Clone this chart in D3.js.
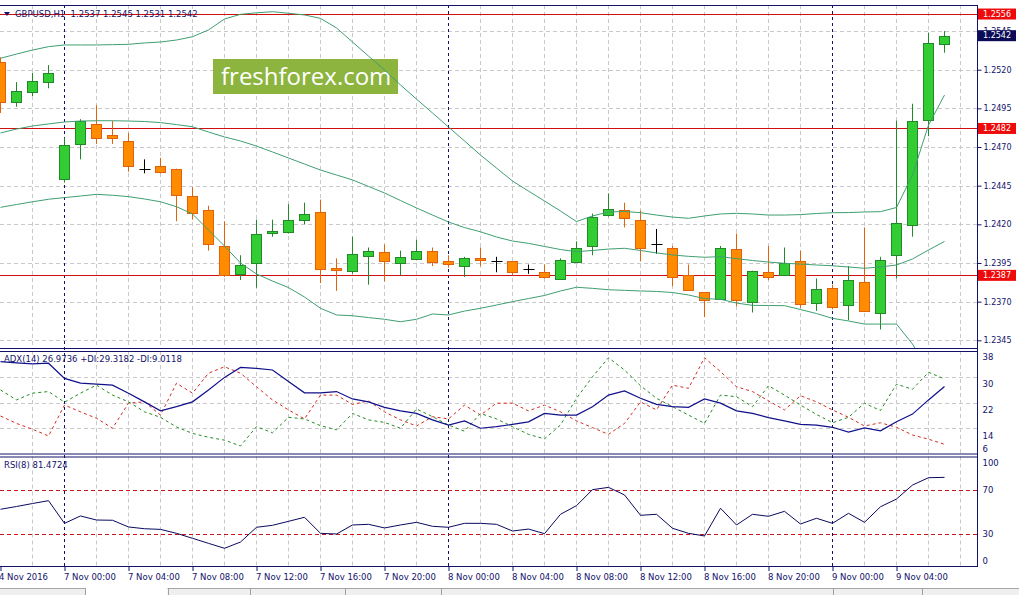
<!DOCTYPE html>
<html>
<head>
<meta charset="utf-8">
<script src="https://cdn.jsdelivr.net/npm/d3@7"></script>
<style>
html, body { margin: 0; padding: 0; background: #fff; overflow: hidden; }
svg { display: block; font-family: "DejaVu Sans", sans-serif; }
</style>
</head>
<body>
<div id="chart"></div>
<script>
// GBPUSD H1, 4 Nov 20:00 .. 9 Nov 07:00 (one value per candle)
const openP  = [1.2525,1.2499,1.2506,1.2512,1.2449,1.2472,1.2485,1.2478,1.2474,1.2456,1.2458,1.2456,1.2438,1.2429,1.2406,1.2388,1.2395,1.2415,1.2415,1.2423,1.2428,1.2392,1.2390,1.2400,1.2402,1.2395,1.2398,1.2403,1.2396,1.2393,1.2398,1.2396,1.2396,1.2391,1.2389,1.2385,1.2396,1.2406,1.2426,1.2429,1.2423,1.2407,1.2405,1.2387,1.2376,1.2372,1.2404,1.2370,1.2389,1.2387,1.2396,1.2369,1.2379,1.2368,1.2383,1.2363,1.2400,1.2420,1.2487,1.2537];
const highP  = [1.2528,1.2512,1.2518,1.2523,1.2476,1.2488,1.2497,1.2487,1.2479,1.2462,1.2463,1.2456,1.2444,1.2432,1.2422,1.2400,1.2423,1.2423,1.2433,1.2434,1.2436,1.2398,1.2412,1.2405,1.2407,1.2403,1.2410,1.2405,1.2400,1.2399,1.2405,1.2399,1.2396,1.2394,1.2394,1.2398,1.2409,1.2427,1.2440,1.2434,1.2429,1.2417,1.2406,1.2394,1.2376,1.2406,1.2414,1.2390,1.2406,1.2405,1.2403,1.2385,1.2381,1.2393,1.2418,1.2399,1.2487,1.2498,1.2544,1.2545];
const lowP   = [1.2492,1.2496,1.2503,1.2508,1.2447,1.2462,1.2472,1.2472,1.2454,1.2453,1.2453,1.2422,1.2423,1.2403,1.2386,1.2384,1.2379,1.2412,1.2414,1.2420,1.2382,1.2377,1.2388,1.2381,1.2383,1.2387,1.2397,1.2393,1.2392,1.2386,1.2393,1.2389,1.2387,1.2388,1.2385,1.2385,1.2396,1.2400,1.2425,1.2418,1.2396,1.2401,1.2380,1.2377,1.2360,1.2372,1.2367,1.2363,1.2384,1.2387,1.2366,1.2364,1.2365,1.2358,1.2364,1.2352,1.2385,1.2412,1.2477,1.2531];
const closeP = [1.2499,1.2506,1.2513,1.2518,1.2471,1.2487,1.2476,1.2476,1.2458,1.2456,1.2454,1.2439,1.2427,1.2407,1.2387,1.2394,1.2414,1.2416,1.2423,1.2427,1.2391,1.2391,1.2401,1.2403,1.2396,1.2399,1.2403,1.2396,1.2394,1.2398,1.2397,1.2396,1.2389,1.2391,1.2386,1.2397,1.2405,1.2425,1.2430,1.2424,1.2405,1.2407,1.2386,1.2377,1.2371,1.2405,1.2371,1.2390,1.2386,1.2395,1.2368,1.2378,1.2367,1.2384,1.2364,1.2397,1.2421,1.2487,1.2537,1.2542];

// Bollinger bands
const bbUpper = [1.25274,1.25301,1.25327,1.25349,1.25360,1.25360,1.25360,1.25362,1.25364,1.25373,1.25379,1.25392,1.25413,1.25457,1.25528,1.25558,1.25568,1.25575,1.25565,1.25554,1.25532,1.25470,1.25379,1.25288,1.25198,1.25101,1.25010,1.24920,1.24829,1.24739,1.24648,1.24564,1.24480,1.24415,1.24351,1.24286,1.24218,1.24254,1.24280,1.24283,1.24275,1.24260,1.24247,1.24239,1.24254,1.24267,1.24271,1.24267,1.24260,1.24260,1.24263,1.24270,1.24275,1.24276,1.24280,1.24282,1.24309,1.24519,1.24842,1.25036];
const bbMid   = [1.24791,1.24816,1.24836,1.24849,1.24862,1.24868,1.24870,1.24870,1.24868,1.24865,1.24858,1.24845,1.24831,1.24797,1.24765,1.24739,1.24706,1.24668,1.24629,1.24590,1.24551,1.24519,1.24487,1.24445,1.24403,1.24354,1.24306,1.24260,1.24215,1.24179,1.24152,1.24118,1.24092,1.24077,1.24057,1.24037,1.24023,1.24031,1.24040,1.24045,1.24031,1.24015,1.24002,1.23993,1.23987,1.23991,1.23978,1.23966,1.23956,1.23948,1.23943,1.23937,1.23932,1.23924,1.23916,1.23924,1.23937,1.23976,1.24034,1.24089];
const bbLower = [1.24310,1.24328,1.24346,1.24362,1.24373,1.24383,1.24394,1.24388,1.24379,1.24364,1.24346,1.24314,1.24267,1.24163,1.24060,1.23950,1.23879,1.23833,1.23791,1.23730,1.23657,1.23614,1.23609,1.23597,1.23586,1.23570,1.23586,1.23620,1.23614,1.23639,1.23657,1.23678,1.23700,1.23720,1.23740,1.23769,1.23793,1.23786,1.23777,1.23773,1.23769,1.23766,1.23759,1.23743,1.23720,1.23715,1.23691,1.23676,1.23675,1.23674,1.23649,1.23623,1.23592,1.23575,1.23555,1.23555,1.23555,1.23426,1.23245,1.23096];

// ADX(14)
const adxV   = [34.7,34.3,34.0,34.2,29.5,28.0,27.7,27.4,24.9,22.2,19.4,20.7,22.2,25.9,29.8,32.9,32.6,32.1,28.5,25.0,25.0,25.4,23.1,22.2,20.5,19.4,18.6,16.6,15.0,16.3,14.0,14.5,15.2,16.0,18.6,18.1,18.1,20.7,24.3,25.6,23.3,21.4,20.7,20.5,23.1,21.8,19.4,18.6,17.3,16.3,15.2,15.0,14.3,12.8,14.1,13.2,16.0,18.4,22.8,26.97];
const plusDI = [25.9,22.8,24.9,25.4,22.1,24.9,27.4,24.3,22.2,19.1,17.4,14.4,12.4,11.2,10.3,8.5,14.5,12.6,17.4,16.9,14.8,13.5,18.6,16.6,15.8,14.0,20.0,17.6,15.0,13.1,18.6,16.9,14.5,12.1,10.7,15.0,23.3,30.0,35.9,32.1,27.2,23.3,20.7,18.1,15.5,24.3,23.8,20.7,27.2,24.3,21.2,18.3,15.7,17.4,21.8,19.5,27.7,26.1,31.4,29.32];
const minusDI= [17.8,15.5,13.7,11.6,21.2,19.1,17.1,14.0,21.8,22.2,18.1,28.0,24.9,31.1,33.1,31.1,26.9,22.8,19.7,16.9,24.3,24.3,21.4,22.5,19.1,16.6,14.7,17.6,16.9,21.2,18.1,21.8,21.8,19.4,21.2,19.1,16.3,14.2,12.1,15.5,22.2,19.7,27.4,26.4,35.9,31.6,26.9,25.4,22.5,19.7,24.1,22.2,19.7,17.4,14.7,15.7,14.3,11.9,10.6,9.01];

// RSI(8)
const rsiV = [52.5,55.0,57.7,60.3,39.7,46.4,42.7,42.5,36.4,34.8,34.2,30.6,26.1,21.5,17.0,22.7,36.1,37.9,41.5,45.2,30.6,30.0,38.2,38.8,35.5,38.2,40.6,37.0,36.1,39.7,39.7,38.8,32.7,34.5,30.3,47.9,55.8,70.3,72.4,65.5,47.0,47.9,35.2,30.6,28.2,53.4,38.2,47.9,46.1,50.6,39.1,44.3,39.7,48.8,40.6,54.8,61.8,74.5,81.2,81.47];

const xTickIdx    = [0,4,8,12,16,20,24,28,32,36,40,44,48,52,56];
const xTickLabels = ["4 Nov 2016","7 Nov 00:00","7 Nov 04:00","7 Nov 08:00","7 Nov 12:00","7 Nov 16:00","7 Nov 20:00","8 Nov 00:00","8 Nov 04:00","8 Nov 08:00","8 Nov 12:00","8 Nov 16:00","8 Nov 20:00","9 Nov 00:00","9 Nov 04:00"];
const daySepIdx   = [4, 28, 52];
const priceTicks  = [1.2545,1.2520,1.2495,1.2470,1.2445,1.2420,1.2395,1.2370,1.2345];
const levelLines  = [1.2556, 1.2482, 1.2387];
const bidPrice    = 1.2542;
const adxTicks    = [38, 30, 22, 14, 6];
const rsiTicks    = [100, 70, 30, 0];
const rsiLevels   = [70, 30];

const W = 1019, H = 595, plotR = 977;
const NAVY = '#12126a', GRID = '#c9c9c9';
const BULL = '#32cd32', BULL_LINE = '#23882a', BEAR = '#ff8c00', BEAR_LINE = '#e2620c';
const BAND = '#3f9f72';
const FS = '8.5px';

const svg = d3.select('#chart').append('svg').attr('width', W).attr('height', H);

const xs = d3.scaleLinear().domain([0, 1]).range([0.5, 16.5]);
const yMain = d3.scaleLinear().domain([1.2345, 1.2520]).range([340.3, 69.7]);
const yAdx = d3.scaleLinear().domain([6, 38]).range([454, 351]);
const yRsi = d3.scaleLinear().domain([0, 100]).range([567, 457]);

const panels = [
  {id: 'pMain', top: 5, bot: 349},
  {id: 'pAdx', top: 351, bot: 454.5},
  {id: 'pRsi', top: 456.5, bot: 567}
];
const defs = svg.append('defs');
panels.forEach(p => {
  defs.append('clipPath').attr('id', p.id).append('rect')
    .attr('x', 0).attr('y', p.top).attr('width', plotR).attr('height', p.bot - p.top);
});

// vertical grid, every 2 candles
const gridIdx = d3.range(2, 61, 2).filter(i => !daySepIdx.includes(i));
panels.forEach(p => {
  svg.append('g').selectAll('line').data(gridIdx).join('line')
    .attr('x1', d => xs(d)).attr('x2', d => xs(d))
    .attr('y1', p.top).attr('y2', p.bot)
    .attr('stroke', GRID).attr('stroke-dasharray', '4,3');
});
// horizontal grid
svg.append('g').selectAll('line').data(priceTicks).join('line')
  .attr('x1', 0).attr('x2', plotR)
  .attr('y1', d => Math.round(yMain(d)) + 0.5).attr('y2', d => Math.round(yMain(d)) + 0.5)
  .attr('stroke', GRID).attr('stroke-dasharray', '4,3');
svg.append('g').selectAll('line').data([30, 22, 14]).join('line')
  .attr('x1', 0).attr('x2', plotR)
  .attr('y1', d => Math.round(yAdx(d)) + 0.5).attr('y2', d => Math.round(yAdx(d)) + 0.5)
  .attr('stroke', GRID).attr('stroke-dasharray', '4,3');

// day separators
svg.append('g').selectAll('line').data(daySepIdx).join('line')
  .attr('x1', d => xs(d)).attr('x2', d => xs(d))
  .attr('y1', 5).attr('y2', 567)
  .attr('stroke', NAVY).attr('stroke-dasharray', '3,3');

// logo
svg.append('rect').attr('x', 213).attr('y', 59).attr('width', 185).attr('height', 35).attr('fill', '#8cb43e');
svg.append('text').attr('x', 221).attr('y', 85).attr('fill', '#fff')
  .style('font-family', '"Open Sans", sans-serif').style('font-size', '24px').text('freshforex.com');

const mainG = svg.append('g').attr('clip-path', 'url(#pMain)');

// red horizontal levels
mainG.selectAll('line.lvl').data(levelLines).join('line').attr('class', 'lvl')
  .attr('x1', 0).attr('x2', plotR)
  .attr('y1', d => Math.round(yMain(d)) + 0.5).attr('y2', d => Math.round(yMain(d)) + 0.5)
  .attr('stroke', '#d01010').attr('stroke-width', 1);

// candles
const candles = d3.range(openP.length).map(i => ({i, o: openP[i], h: highP[i], l: lowP[i], c: closeP[i]}));
const cg = mainG.selectAll('g.c').data(candles).join('g').attr('class', 'c');
const lineCol = d => d.c > d.o ? BULL_LINE : (d.c < d.o ? BEAR_LINE : '#000');
cg.append('line')
  .attr('x1', d => xs(d.i)).attr('x2', d => xs(d.i))
  .attr('y1', d => yMain(d.h)).attr('y2', d => yMain(d.l))
  .attr('stroke', lineCol);
cg.filter(d => d.c !== d.o).append('rect')
  .attr('x', d => xs(d.i) - 5).attr('width', 10)
  .attr('y', d => Math.round(yMain(Math.max(d.o, d.c))) + 0.5)
  .attr('height', d => Math.max(1, Math.round(Math.abs(yMain(d.o) - yMain(d.c)))))
  .attr('fill', d => d.c > d.o ? BULL : BEAR)
  .attr('stroke', lineCol);
cg.filter(d => d.c === d.o).append('line')
  .attr('x1', d => xs(d.i) - 5).attr('x2', d => xs(d.i) + 6)
  .attr('y1', d => Math.round(yMain(d.o)) + 0.5).attr('y2', d => Math.round(yMain(d.o)) + 0.5)
  .attr('stroke', '#000');

// Bollinger bands
const priceLine = d3.line().x((d, i) => xs(i)).y(d => yMain(d));
[bbUpper, bbMid, bbLower].forEach(s => {
  mainG.append('path').datum(s).attr('d', priceLine)
    .attr('fill', 'none').attr('stroke', BAND).attr('stroke-width', 1);
});

// ADX panel
const adxG = svg.append('g').attr('clip-path', 'url(#pAdx)');
const adxLine = d3.line().x((d, i) => xs(i)).y(d => yAdx(d));
adxG.append('path').datum(minusDI).attr('d', adxLine).attr('fill', 'none')
  .attr('stroke', '#d42a22').attr('stroke-dasharray', '3,3');
adxG.append('path').datum(plusDI).attr('d', adxLine).attr('fill', 'none')
  .attr('stroke', '#238a23').attr('stroke-dasharray', '3,3');
adxG.append('path').datum(adxV).attr('d', adxLine).attr('fill', 'none')
  .attr('stroke', '#10108a').attr('stroke-width', 1.2);

// RSI panel
const rsiG = svg.append('g').attr('clip-path', 'url(#pRsi)');
rsiG.selectAll('line.lv').data(rsiLevels).join('line').attr('class', 'lv')
  .attr('x1', 0).attr('x2', plotR)
  .attr('y1', d => Math.round(yRsi(d)) + 0.5).attr('y2', d => Math.round(yRsi(d)) + 0.5)
  .attr('stroke', '#c8161d').attr('stroke-dasharray', '4,3');
rsiG.append('path').datum(rsiV)
  .attr('d', d3.line().x((d, i) => xs(i)).y(d => yRsi(d)))
  .attr('fill', 'none').attr('stroke', '#0a0a5e').attr('stroke-width', 1);

// panel frames
const frame = svg.append('g').attr('stroke', NAVY).attr('fill', 'none');
panels.forEach(p => {
  frame.append('line').attr('x1', 0).attr('x2', plotR + 0.5).attr('y1', p.top + 0.5).attr('y2', p.top + 0.5);
  frame.append('line').attr('x1', 0).attr('x2', plotR + 0.5).attr('y1', p.bot - 0.5).attr('y2', p.bot - 0.5);
});
frame.append('line').attr('x1', plotR + 0.5).attr('x2', plotR + 0.5).attr('y1', 5).attr('y2', 567);

// axes
const styleAxis = g => {
  g.select('.domain').remove();
  g.selectAll('line').attr('stroke', NAVY);
  g.selectAll('text').attr('fill', NAVY).style('font-size', FS).style('font-family', '"DejaVu Sans", sans-serif');
};
svg.append('g').attr('transform', `translate(${plotR + 0.5},0)`)
  .call(d3.axisRight(yMain).tickValues(priceTicks).tickFormat(d3.format('.4f')).tickSize(4).tickPadding(2))
  .call(styleAxis)
  .call(g => g.selectAll('text').style('font-size', '8px'));

const adxAx = svg.append('g').attr('transform', `translate(${plotR + 0.5},0)`)
  .call(d3.axisRight(yAdx).tickValues(adxTicks).tickFormat(d3.format('d')).tickSize(0).tickPadding(5))
  .call(styleAxis);
adxAx.selectAll('.tick text').attr('dy', d => d === 38 ? '0.95em' : d === 6 ? '-0.35em' : '1.15em');

const rsiAx = svg.append('g').attr('transform', `translate(${plotR + 0.5},0)`)
  .call(d3.axisRight(yRsi).tickValues(rsiTicks).tickFormat(d3.format('d')).tickSize(0).tickPadding(5))
  .call(styleAxis);
rsiAx.selectAll('.tick text').attr('dy', d => d === 100 ? '1.05em' : d === 0 ? '-0.4em' : '0.32em');

// level labels on price axis
const tag = (price, bg) => {
  const y = yMain(price);
  const gg = svg.append('g');
  gg.append('rect').attr('x', 978).attr('y', y - 5.5).attr('width', 38).attr('height', 11).attr('fill', bg);
  gg.append('text').attr('x', 983).attr('y', y).attr('dy', '0.34em').attr('fill', '#fff')
    .style('font-size', '8px').text(d3.format('.4f')(price));
};
levelLines.forEach(p => tag(p, '#ee0a0a'));
tag(bidPrice, '#0b0b56');

// x axis
svg.append('g').attr('transform', 'translate(0,567)')
  .call(d3.axisBottom(xs).tickValues(xTickIdx).tickFormat((d, i) => xTickLabels[i]).tickSize(4).tickPadding(3))
  .call(styleAxis)
  .call(g => g.selectAll('text').attr('text-anchor', 'start').attr('dx', d => d === 0 ? -2 : -1));

// legends
const legend = (x, y, txt) => svg.append('text').attr('x', x).attr('y', y).attr('dy', '0.34em')
  .attr('fill', NAVY).style('font-size', FS).style('white-space', 'pre').text(txt);
svg.append('path').attr('d', 'M4,12 L10,12 L7,16 Z').attr('fill', NAVY);
legend(15, 14, 'GBPUSD,H1  1.2537 1.2545 1.2531 1.2542');
legend(4, 359, 'ADX(14) 26.9736 +DI:29.3182 -DI:9.0118');
legend(4, 465, 'RSI(8) 81.4724');

// bottom tabs strip
svg.append('rect').attr('x', 0).attr('y', 588).attr('width', W).attr('height', 7).attr('fill', '#efefef');
svg.append('line').attr('x1', 0).attr('x2', W).attr('y1', 588.5).attr('y2', 588.5).attr('stroke', '#a8a8a8');
svg.append('rect').attr('x', 85.5).attr('y', 586).attr('width', 82).attr('height', 9).attr('fill', '#fff');
svg.append('g').selectAll('line').data([85, 168, 250, 345, 441, 833, 922]).join('line')
  .attr('x1', d => d + 0.5).attr('x2', d => d + 0.5).attr('y1', 588).attr('y2', 595).attr('stroke', '#a0a0a0');
</script>
</body>
</html>
